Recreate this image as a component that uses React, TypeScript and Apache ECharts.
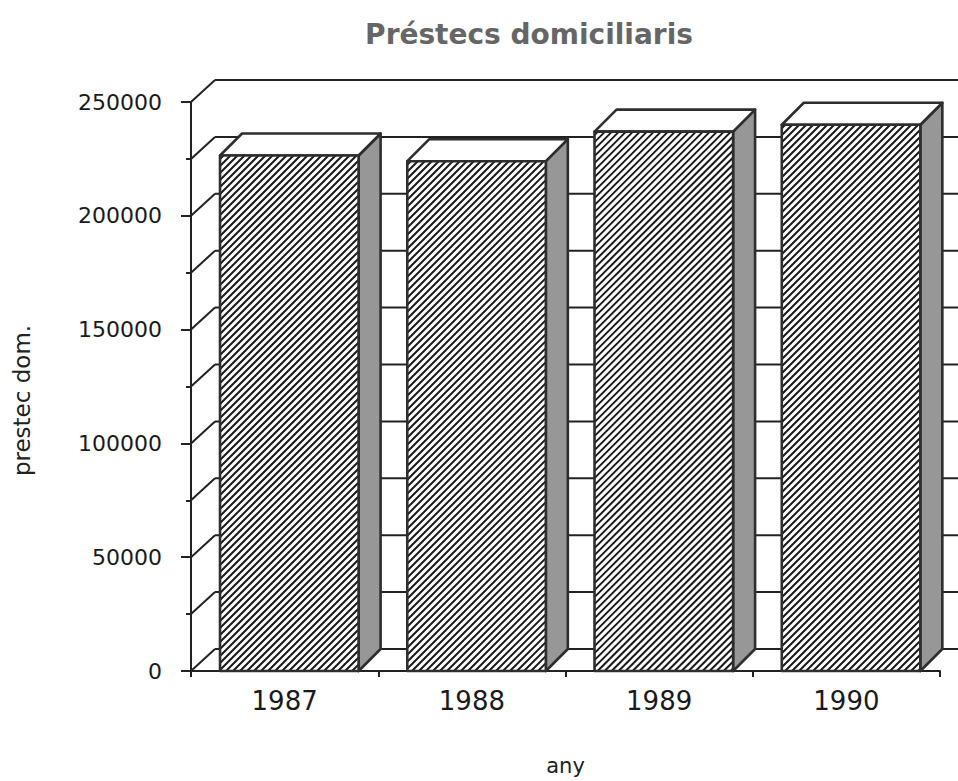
import React, { useEffect, useRef } from "react";
import * as echarts from "echarts";

// ---- data ----
const titleText = "Préstecs domiciliaris";
const categories = ["1987", "1988", "1989", "1990"];
const loans = [226500, 224000, 237000, 240000];
const yAxisName = "prestec dom.";
const xAxisName = "any";
const yMin = 0;
const yMax = 250000;
const yInterval = 50000;
const backGridValues = [0, 25000, 50000, 75000, 100000, 125000, 150000, 175000, 200000, 225000, 250000];

const FONT = "DejaVu Sans";
const LINE = "#222222";
const DEPTH_X = 22;
const DEPTH_Y = 22;
const WALL_X = 24;

let shapeRegistered = false;
function registerHatch() {
  if (shapeRegistered) return;
  shapeRegistered = true;
  const Hatch = (echarts.graphic as any).extendShape({
    shape: { x: 0, y: 0, width: 0, height: 0, gap: 7 },
    buildPath(ctx: any, shape: any) {
      const x0 = shape.x, y0 = shape.y;
      const x1 = shape.x + shape.width, y1 = shape.y + shape.height;
      const s = shape.gap;
      for (let c = x0 + y0 + s / 2; c < x1 + y1; c += s) {
        const xa = Math.max(x0, c - y1);
        const xb = Math.min(x1, c - y0);
        if (xb > xa) {
          ctx.moveTo(xa, c - xa);
          ctx.lineTo(xb, c - xb);
        }
      }
    },
  });
  (echarts.graphic as any).registerShape("hatch", Hatch);
}

export default function App() {
  const ref = useRef<HTMLDivElement>(null);

  useEffect(() => {
    document.body.style.margin = "0";
    registerHatch();
    const chart = echarts.init(ref.current!, null, { renderer: "svg" });

    const option: any = {
      animation: false,
      backgroundColor: "#ffffff",
      title: {
        text: titleText,
        left: 524,
        top: 15,
        textAlign: "center",
        textStyle: { fontFamily: FONT, fontWeight: "bold", fontSize: 28, color: "#666666" },
      },
      grid: { left: 191, right: 18, top: 102, bottom: 109, containLabel: false },
      xAxis: {
        type: "category",
        data: categories,
        name: xAxisName,
        nameLocation: "middle",
        nameGap: 84,
        nameTextStyle: { fontFamily: FONT, fontSize: 21, color: "#222" },
        axisLine: { lineStyle: { color: LINE, width: 2 } },
        axisTick: { show: true, length: 6, lineStyle: { color: LINE, width: 2 } },
        axisLabel: { fontFamily: FONT, fontSize: 26, color: "#1a1a1a", margin: 17 },
      },
      yAxis: {
        type: "value",
        min: yMin,
        max: yMax,
        interval: yInterval,
        name: yAxisName,
        nameLocation: "middle",
        nameGap: 158,
        nameTextStyle: { fontFamily: FONT, fontSize: 23, color: "#222", padding: [0, 28, 0, 0] },
        axisLine: { show: true, lineStyle: { color: LINE, width: 2 } },
        axisTick: { show: true, length: 10, lineStyle: { color: LINE, width: 2 } },
        minorTick: { show: true, splitNumber: 2, length: 5, lineStyle: { color: LINE, width: 2 } },
        splitLine: { show: false },
        axisLabel: {
          fontFamily: FONT,
          fontSize: 22,
          color: "#1a1a1a",
          margin: 29,
          formatter: (v: number) => String(v),
        },
      },
      series: [
        {
          type: "custom",
          z: 1,
          silent: true,
          data: backGridValues.map((v) => [0, v]),
          renderItem: (params: any, api: any) => {
            const v = api.value(1);
            const y = api.coord([0, v])[1];
            const cs = params.coordSys;
            const x0 = cs.x;
            const x1 = cs.x + cs.width;
            const style = { stroke: LINE, lineWidth: 2 };
            return {
              type: "group",
              children: [
                { type: "line", shape: { x1: x0, y1: y, x2: x0 + WALL_X, y2: y - DEPTH_Y }, style },
                { type: "line", shape: { x1: x0 + WALL_X, y1: y - DEPTH_Y, x2: x1 + WALL_X, y2: y - DEPTH_Y }, style },
              ],
            };
          },
        },
        {
          type: "custom",
          z: 2,
          data: loans.map((v, i) => [i, v]),
          renderItem: (params: any, api: any) => {
            const idx = api.value(0);
            const v = api.value(1);
            const base = api.coord([idx, 0]);
            const top = api.coord([idx, v]);
            const bw = api.size([1, 0])[0];
            const left = base[0] - bw / 2 + bw * 0.155;
            const w = bw * 0.74;
            const yt = top[1];
            const yb = base[1];
            const outline = { stroke: "#2e2e2e", lineWidth: 2.6, lineJoin: "round" };
            return {
              type: "group",
              children: [
                {
                  type: "polygon",
                  shape: {
                    points: [
                      [left + w, yt],
                      [left + w + DEPTH_X, yt - DEPTH_Y],
                      [left + w + DEPTH_X, yb - DEPTH_Y],
                      [left + w, yb],
                    ],
                  },
                  style: { fill: "#979797", ...outline },
                },
                {
                  type: "polygon",
                  shape: {
                    points: [
                      [left, yt],
                      [left + DEPTH_X, yt - DEPTH_Y],
                      [left + w + DEPTH_X, yt - DEPTH_Y],
                      [left + w, yt],
                    ],
                  },
                  style: { fill: "#ffffff", ...outline },
                },
                {
                  type: "rect",
                  shape: { x: left, y: yt, width: w, height: yb - yt },
                  style: { fill: "#ffffff", stroke: "none" },
                },
                {
                  type: "hatch",
                  shape: { x: left, y: yt, width: w, height: yb - yt, gap: 7 },
                  style: { fill: "none", stroke: "#1a1a1a", lineWidth: 2 },
                },
                {
                  type: "rect",
                  shape: { x: left, y: yt, width: w, height: yb - yt },
                  style: { fill: "none", ...outline },
                },
              ],
            };
          },
        },
      ],
    };

    chart.setOption(option);
    return () => chart.dispose();
  }, []);

  return <div ref={ref} style={{ width: 958, height: 781 }} />;
}
